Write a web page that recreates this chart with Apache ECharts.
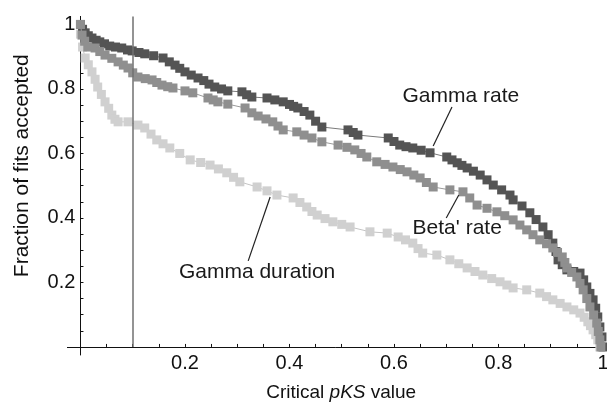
<!DOCTYPE html>
<html>
<head>
<meta charset="utf-8">
<script src="https://cdn.jsdelivr.net/npm/echarts@6/dist/echarts.min.js"></script>
<style>
  html, body { margin: 0; padding: 0; background: #fff; }
  #main { width: 607px; height: 403px; }
</style>
</head>
<body>
<div id="main"></div>
<script>
// fraction of fits accepted vs critical pKS value
const gammaRate = [
  [0, 1.0], [0.004, 0.985], [0.009, 0.974], [0.015, 0.965], [0.022, 0.958], [0.03, 0.951],
  [0.037, 0.946], [0.046, 0.94], [0.056, 0.933], [0.067, 0.93], [0.079, 0.927], [0.09, 0.921],
  [0.099, 0.918], [0.112, 0.913], [0.123, 0.909], [0.14, 0.903], [0.158, 0.896], [0.17, 0.884],
  [0.181, 0.874], [0.19, 0.864], [0.2, 0.853], [0.212, 0.843], [0.225, 0.834], [0.236, 0.826],
  [0.246, 0.815], [0.257, 0.806], [0.27, 0.8], [0.282, 0.794], [0.309, 0.791], [0.318, 0.782],
  [0.328, 0.775], [0.357, 0.772], [0.372, 0.766], [0.388, 0.76], [0.4, 0.752], [0.408, 0.746],
  [0.416, 0.741], [0.428, 0.73], [0.439, 0.719], [0.45, 0.7], [0.462, 0.682], [0.512, 0.673],
  [0.522, 0.665], [0.531, 0.657], [0.589, 0.648], [0.6, 0.637], [0.611, 0.626], [0.623, 0.621],
  [0.636, 0.617], [0.652, 0.61], [0.669, 0.602], [0.701, 0.589], [0.711, 0.58], [0.721, 0.571],
  [0.73, 0.563], [0.74, 0.555], [0.752, 0.545], [0.765, 0.533], [0.778, 0.518], [0.79, 0.502],
  [0.806, 0.487], [0.822, 0.471], [0.828, 0.456], [0.845, 0.437], [0.86, 0.416], [0.872, 0.395],
  [0.885, 0.372], [0.895, 0.348], [0.904, 0.322], [0.91, 0.296], [0.914, 0.27], [0.922, 0.255],
  [0.931, 0.239], [0.944, 0.234], [0.956, 0.229], [0.963, 0.208], [0.969, 0.186], [0.975, 0.166],
  [0.981, 0.146], [0.986, 0.12], [0.99, 0.093], [0.994, 0.062], [0.998, 0.031], [1.0, 0]
];

const betaRate = [
  [0, 1.0], [0.003, 0.967], [0.008, 0.948], [0.014, 0.93], [0.028, 0.927], [0.037, 0.916],
  [0.047, 0.905], [0.06, 0.895], [0.072, 0.884], [0.082, 0.874], [0.091, 0.865], [0.1, 0.85],
  [0.11, 0.837], [0.124, 0.832], [0.137, 0.828], [0.146, 0.82], [0.156, 0.812], [0.167, 0.807],
  [0.177, 0.803], [0.2, 0.794], [0.215, 0.788], [0.244, 0.772], [0.254, 0.766], [0.263, 0.76],
  [0.282, 0.753], [0.315, 0.741], [0.328, 0.726], [0.34, 0.716], [0.355, 0.707], [0.368, 0.698],
  [0.378, 0.685], [0.388, 0.673], [0.414, 0.667], [0.428, 0.657], [0.443, 0.648], [0.462, 0.636],
  [0.493, 0.626], [0.51, 0.619], [0.525, 0.611], [0.537, 0.6], [0.548, 0.589], [0.567, 0.574],
  [0.583, 0.566], [0.598, 0.558], [0.612, 0.55], [0.625, 0.543], [0.638, 0.533], [0.65, 0.524],
  [0.662, 0.51], [0.675, 0.496], [0.707, 0.487], [0.732, 0.481], [0.745, 0.462], [0.759, 0.44],
  [0.778, 0.43], [0.797, 0.419], [0.812, 0.407], [0.828, 0.394], [0.841, 0.378], [0.854, 0.363],
  [0.866, 0.348], [0.879, 0.332], [0.892, 0.32], [0.904, 0.307], [0.913, 0.293], [0.922, 0.279],
  [0.927, 0.262], [0.931, 0.245], [0.94, 0.231], [0.95, 0.217], [0.956, 0.197], [0.962, 0.177],
  [0.969, 0.15], [0.975, 0.124], [0.982, 0.099], [0.988, 0.074], [0.991, 0.048], [0.994, 0.022],
  [0.996, 0]
];

const gammaDuration = [
  [0, 0.97], [0.004, 0.93], [0.009, 0.896], [0.015, 0.875], [0.022, 0.853], [0.028, 0.83],
  [0.033, 0.806], [0.04, 0.783], [0.047, 0.76], [0.054, 0.74], [0.06, 0.719], [0.066, 0.706],
  [0.072, 0.698], [0.091, 0.698], [0.11, 0.688], [0.123, 0.679], [0.135, 0.66], [0.146, 0.642],
  [0.158, 0.63], [0.171, 0.617], [0.19, 0.6], [0.21, 0.58], [0.23, 0.572], [0.248, 0.564],
  [0.264, 0.552], [0.28, 0.54], [0.293, 0.526], [0.305, 0.512], [0.338, 0.496], [0.357, 0.484],
  [0.376, 0.471], [0.407, 0.462], [0.42, 0.448], [0.433, 0.434], [0.443, 0.42], [0.453, 0.409],
  [0.468, 0.398], [0.483, 0.388], [0.5, 0.38], [0.516, 0.372], [0.554, 0.357], [0.587, 0.353],
  [0.608, 0.341], [0.622, 0.332], [0.636, 0.322], [0.646, 0.305], [0.655, 0.291], [0.682, 0.285],
  [0.707, 0.27], [0.724, 0.258], [0.74, 0.245], [0.755, 0.234], [0.77, 0.223], [0.787, 0.212],
  [0.803, 0.202], [0.816, 0.192], [0.828, 0.183], [0.854, 0.177], [0.879, 0.167], [0.892, 0.156],
  [0.904, 0.146], [0.918, 0.135], [0.931, 0.124], [0.944, 0.115], [0.956, 0.105], [0.964, 0.092],
  [0.971, 0.078], [0.976, 0.066], [0.981, 0.053], [0.986, 0.038], [0.99, 0.022], [0.994, 0]
];

const tickLabels = [0.2, 0.4, 0.6, 0.8, 1];
const minorTicks = [0.05, 0.1, 0.15, 0.2, 0.25, 0.3, 0.35, 0.4, 0.45, 0.5,
  0.55, 0.6, 0.65, 0.7, 0.75, 0.8, 0.85, 0.9, 0.95, 1];
const cutoff = 0.1;

const FONT = "'Liberation Sans', Arial, Helvetica, sans-serif";

const chart = echarts.init(document.getElementById('main'));

function axisCommon() {
  return {
    type: 'value',
    min: -0.025,
    splitLine: { show: false },
    axisLine: { onZero: true, lineStyle: { color: '#111', width: 1 } },
    axisTick: { inside: true, length: 3, customValues: minorTicks, lineStyle: { color: '#111' } },
    axisLabel: { customValues: tickLabels, color: '#111', fontSize: 20, fontFamily: FONT },
    nameLocation: 'middle',
    nameMoveOverlap: false
  };
}

// annotation text + leader line, in data coords
function note(text, at, from, to) {
  return { text, at, from, to };
}
const notes = [
  note('Gamma rate', [0.728, 0.777], [0.711, 0.744], [0.675, 0.623]),
  note("Beta' rate", [0.721, 0.369], [0.724, 0.471], [0.700, 0.400]),
  note('Gamma duration', [0.338, 0.231], [0.363, 0.465], [0.321, 0.267])
];

function series(name, data, color, lineColor, z) {
  return {
    name,
    type: 'line',
    data,
    z,
    clip: false,
    symbol: 'rect',
    symbolSize: 9,
    showSymbol: true,
    itemStyle: { color },
    lineStyle: { color: lineColor, width: 1 },
    animation: false
  };
}

const option = {
  animation: false,
  grid: { left: 67.4, right: 4, top: 16.4, bottom: 48, containLabel: false, outerBoundsMode: 'none' },
  xAxis: Object.assign(axisCommon(), {
    max: 1,
    name: 'Critical {i|pKS} value',
    nameGap: 28,
    nameTextStyle: {
      color: '#111', fontSize: 19, fontFamily: FONT, padding: [0, 0, 0, 12],
      rich: { i: { fontStyle: 'italic', fontSize: 19, fontFamily: FONT, color: '#111' } }
    },
    axisLabel: Object.assign(axisCommon().axisLabel, { margin: -2 })
  }),
  yAxis: Object.assign(axisCommon(), {
    max: 1.025,
    name: 'Fraction of fits accepted',
    nameGap: 35,
    nameTextStyle: { color: '#111', fontSize: 21, fontFamily: FONT, padding: [0, 0, 0, 40] },
    axisLabel: Object.assign(axisCommon().axisLabel, { margin: -8 })
  }),
  series: [
    series('Gamma duration', gammaDuration, '#d0d0d0', '#c4c4c4', 2),
    series('Gamma rate', gammaRate, '#545454', '#7a7a7a', 3),
    Object.assign(series("Beta' rate", betaRate, '#8f8f8f', '#9a9a9a', 4), {
      markLine: {
        silent: true,
        symbol: 'none',
        animation: false,
        label: { show: false },
        lineStyle: { color: '#222', width: 1.2, type: 'solid' },
        data: [
          [{ coord: [cutoff, 0], lineStyle: { color: '#707070', width: 1.5, type: 'solid' } },
           { coord: [cutoff, 1.025] }]
        ].concat(notes.map(n => [{ coord: n.from }, { coord: n.to }]))
      },
      markPoint: {
        silent: true,
        animation: false,
        symbol: 'circle',
        symbolSize: 0,
        label: {
          show: true, position: 'inside', color: '#1a1a1a', fontSize: 21, fontFamily: FONT,
          formatter: p => p.name
        },
        data: notes.map(n => ({ name: n.text, coord: n.at }))
      }
    })
  ]
};

chart.setOption(option);
</script>
</body>
</html>
